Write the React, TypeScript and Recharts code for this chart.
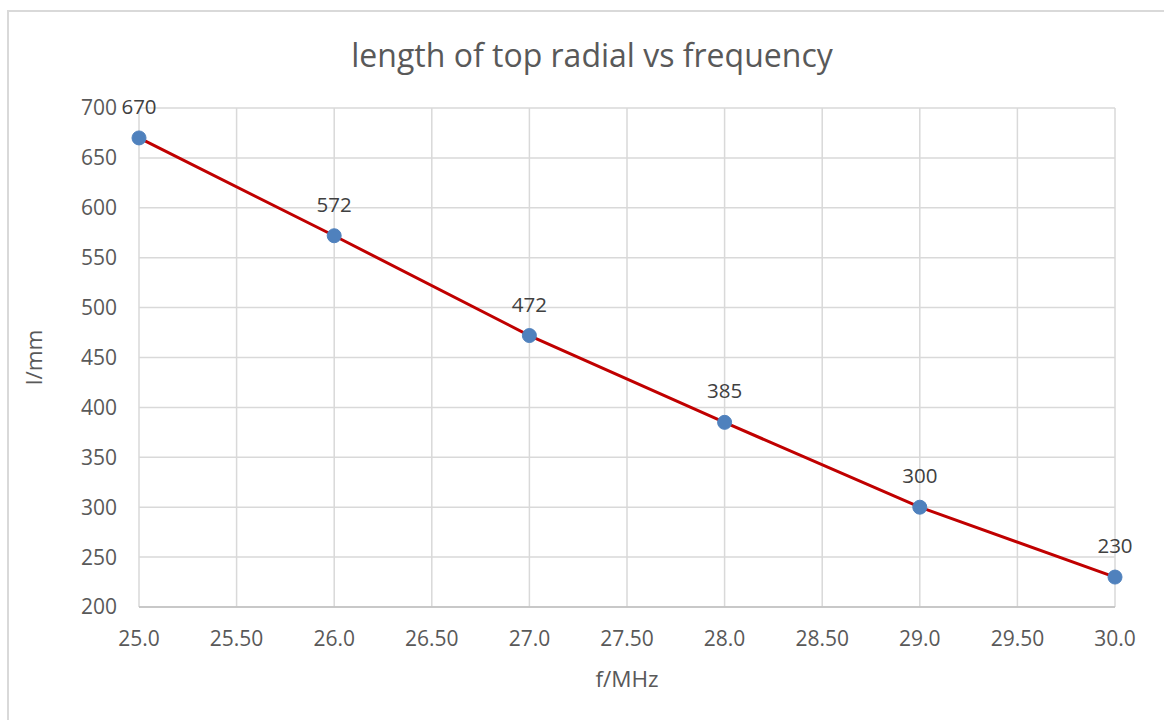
import React from 'react';
import { LineChart, Line, XAxis, YAxis, CartesianGrid, LabelList, Label } from 'recharts';

const frequencies = [25, 26, 27, 28, 29, 30];
const lengths = [670, 572, 472, 385, 300, 230];
const xTicks = [25, 25.5, 26, 26.5, 27, 27.5, 28, 28.5, 29, 29.5, 30];
const xTickLabels = ['25.0', '25.50', '26.0', '26.50', '27.0', '27.50', '28.0', '28.50', '29.0', '29.50', '30.0'];
const yTicks = [200, 250, 300, 350, 400, 450, 500, 550, 600, 650, 700];

const data = frequencies.map((f, i) => ({ f, l: lengths[i] }));

const FONT = '"Open Sans", "DejaVu Sans", sans-serif';

export default function App() {
  return (
    <div style={{ position: 'absolute', left: 0, top: 0, width: 1164, height: 720, overflow: 'hidden', background: '#fff', fontFamily: FONT }}>
      <div style={{ position: 'absolute', left: 7, top: 10, width: 1200, height: 760, border: '2px solid #d9d9d9', boxSizing: 'border-box' }} />
      <div style={{ position: 'absolute', left: 192, width: 800, top: 34, textAlign: 'center', fontSize: 32, lineHeight: '42px', color: '#595959' }}>
        length of top radial vs frequency
      </div>
      <div style={{ position: 'absolute', left: 0, top: 0 }}>
        <LineChart width={1164} height={720} data={data} margin={{ top: 108, right: 49, bottom: 23, left: 10 }}>
          <CartesianGrid stroke="#d9d9d9" strokeWidth={1.5} />
          <XAxis
            dataKey="f"
            type="number"
            domain={[25, 30]}
            ticks={xTicks}
            tickFormatter={(v: number) => xTickLabels[xTicks.indexOf(v)] ?? String(v)}
            height={90}
            tickLine={false}
            tickSize={0}
            tickMargin={24}
            axisLine={{ stroke: '#bfbfbf', strokeWidth: 1.5 }}
            tick={{ fill: '#595959', fontSize: 21, fontFamily: FONT }}
            interval={0}
          >
            <Label value="f/MHz" position="insideBottom" offset={10} style={{ fill: '#595959', fontSize: 22.5, fontFamily: FONT }} />
          </XAxis>
          <YAxis
            type="number"
            domain={[200, 700]}
            ticks={yTicks}
            width={129}
            tickLine={false}
            tickSize={0}
            tickMargin={22}
            axisLine={false}
            tick={{ fill: '#595959', fontSize: 21, fontFamily: FONT }}
            interval={0}
          >
            <Label value="l/mm" angle={-90} position="insideLeft" offset={24} style={{ fill: '#595959', fontSize: 22.5, fontFamily: FONT, textAnchor: 'middle' }} />
          </YAxis>
          <Line
            dataKey="l"
            type="linear"
            stroke="#c00000"
            strokeWidth={3}
            isAnimationActive={false}
            dot={{ r: 7, fill: '#4f81bd', stroke: '#4f81bd', strokeWidth: 1 }}
            activeDot={false}
          >
            <LabelList dataKey="l" position="top" offset={24} style={{ fill: '#404040', fontSize: 20.5, fontFamily: FONT }} />
          </Line>
        </LineChart>
      </div>
    </div>
  );
}
